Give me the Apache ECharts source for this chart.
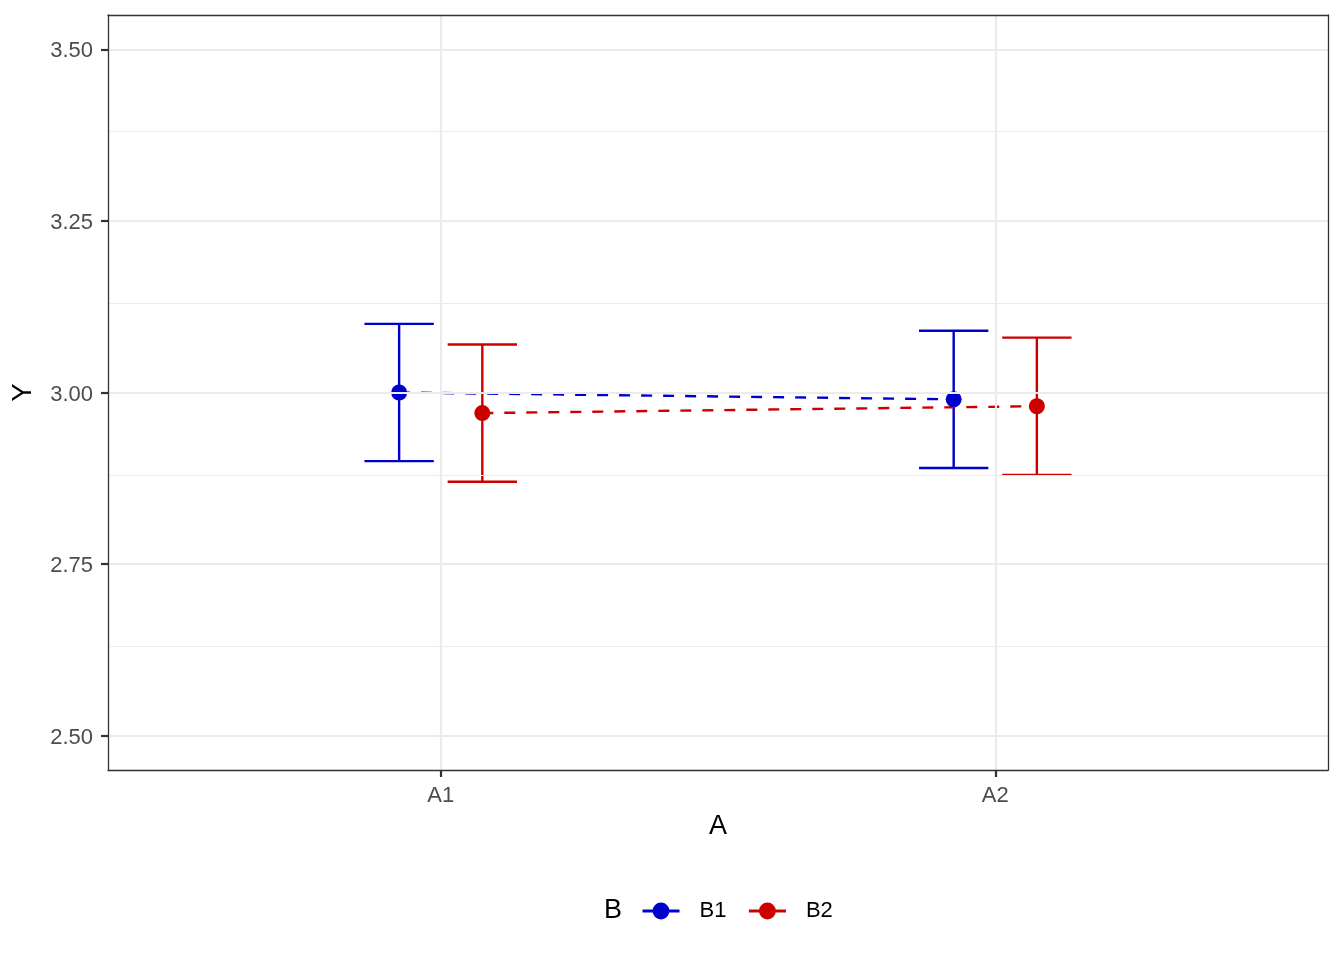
<!DOCTYPE html>
<html>
<head>
<meta charset="utf-8">
<script src="https://cdn.jsdelivr.net/npm/echarts@6/dist/echarts.min.js"></script>
<style>
html,body{margin:0;padding:0;background:#fff;}
#chart{width:1344px;height:960px;}
</style>
</head>
<body>
<div id="chart"></div>
<script>
// ---- data ----
const categories = ['A1', 'A2'];
const b1Mean  = [3.00, 2.99];
const b1Lower = [2.90, 2.89];
const b1Upper = [3.10, 3.09];
const b2Mean  = [2.97, 2.98];
const b2Lower = [2.87, 2.88];
const b2Upper = [3.07, 3.08];
const yTicks = [2.50, 2.75, 3.00, 3.25, 3.50];
const yMinor = [2.625, 2.875, 3.125, 3.375];
const groups = ['B1', 'B2'];

// ---- layout / style constants ----
const DODGE = 0.075;
const HALF_W = 0.0625;
const BLUE = '#0000CD';
const RED = '#CD0000';
const FONT = 'Liberation Sans, Arial, Helvetica, sans-serif';
const LW = 2.4;
const xPos = categories.map((c, i) => i + 1);

function pts(mean, off) {
  return mean.map((v, i) => [xPos[i] + off, v]);
}
function bars(lo, hi, off) {
  return lo.map((v, i) => [xPos[i] + off, v, hi[i]]);
}
function errRender(color) {
  return function (params, api) {
    const x = api.value(0), lo = api.value(1), hi = api.value(2);
    const pTop = api.coord([x, hi]);
    const pBot = api.coord([x, lo]);
    const pTL = api.coord([x - HALF_W, hi]);
    const pTR = api.coord([x + HALF_W, hi]);
    const pBL = api.coord([x - HALF_W, lo]);
    const pBR = api.coord([x + HALF_W, lo]);
    const st = { stroke: color, lineWidth: LW };
    return {
      type: 'group',
      children: [
        { type: 'line', shape: { x1: pTop[0], y1: pTop[1], x2: pBot[0], y2: pBot[1] }, style: st },
        { type: 'line', shape: { x1: pTL[0], y1: pTL[1], x2: pTR[0], y2: pTR[1] }, style: st },
        { type: 'line', shape: { x1: pBL[0], y1: pBL[1], x2: pBR[0], y2: pBR[1] }, style: st }
      ]
    };
  };
}

const gridLines = []
  .concat(yMinor.map(v => ({ yAxis: v, lineStyle: { width: 1.1, color: '#EBEBEB', type: 'solid' } })))
  .concat(yTicks.map(v => ({ yAxis: v, lineStyle: { width: 2.2, color: '#EBEBEB', type: 'solid' } })))
  .concat(xPos.map(v => ({ xAxis: v, lineStyle: { width: 2.2, color: '#EBEBEB', type: 'solid' } })));

const borderLine = { show: true, onZero: false, lineStyle: { color: '#333333', width: 1.3 } };

const chart = echarts.init(document.getElementById('chart'), null, { renderer: 'canvas' });
chart.setOption({
  animation: false,
  backgroundColor: '#fff',
  grid: { left: 108, right: 16, top: 15, bottom: 190, show: false },
  xAxis: [
    {
      type: 'value', min: 0.4, max: 2.6, position: 'bottom', z: 6,
      name: 'A', nameLocation: 'middle', nameGap: 43,
      nameTextStyle: { fontFamily: FONT, fontSize: 27, color: '#000' },
      axisLine: borderLine,
      axisTick: { show: true, length: 7, customValues: xPos, lineStyle: { color: '#333333', width: 2.2 } },
      axisLabel: {
        customValues: xPos, margin: 15,
        fontFamily: FONT, fontSize: 22, color: '#4D4D4D',
        formatter: v => categories[Math.round(v) - 1] || ''
      },
      splitLine: { show: false }
    },
    {
      type: 'value', min: 0.4, max: 2.6, position: 'top', z: 6,
      axisLine: borderLine, axisTick: { show: false }, axisLabel: { show: false }, splitLine: { show: false }
    }
  ],
  yAxis: [
    {
      type: 'value', min: 2.45, max: 3.55, position: 'left', z: 6,
      name: 'Y', nameLocation: 'middle', nameGap: 71, nameRotate: 90,
      nameTextStyle: { fontFamily: FONT, fontSize: 27, color: '#000' },
      axisLine: borderLine,
      axisTick: { show: true, length: 7, customValues: yTicks, lineStyle: { color: '#333333', width: 2.2 } },
      axisLabel: {
        customValues: yTicks, margin: 15,
        fontFamily: FONT, fontSize: 22, color: '#4D4D4D',
        formatter: v => '{t|' + Number(v).toFixed(2) + '}',
        rich: { t: { fontFamily: FONT, fontSize: 22, color: '#4D4D4D', padding: [4, 0, 0, 0] } }
      },
      splitLine: { show: false }
    },
    {
      type: 'value', min: 2.45, max: 3.55, position: 'right', z: 6,
      axisLine: borderLine, axisTick: { show: false }, axisLabel: { show: false }, splitLine: { show: false }
    }
  ],
  legend: {
    data: groups,
    left: 636, top: 895,
    itemWidth: 37, itemHeight: 21, itemGap: 21,
    lineStyle: { type: 'solid', width: 3 },
    textStyle: { fontFamily: FONT, fontSize: 22, color: '#000', padding: [0, 0, 0, 15] }
  },
  graphic: [
    { type: 'text', left: 604, top: 897, style: { text: 'B', font: '27px ' + FONT, fill: '#000' } }
  ],
  series: [
    {
      name: 'B1', type: 'line', data: pts(b1Mean, -DODGE), z: 4,
      symbol: 'circle', symbolSize: 16, color: BLUE,
      itemStyle: { color: BLUE },
      lineStyle: { color: BLUE, width: LW, type: [11, 11] }
    },
    {
      name: 'B2', type: 'line', data: pts(b2Mean, DODGE), z: 4,
      symbol: 'circle', symbolSize: 16, color: RED,
      itemStyle: { color: RED },
      lineStyle: { color: RED, width: LW, type: [11, 11] }
    },
    {
      name: 'B1', type: 'custom', data: bars(b1Lower, b1Upper, -DODGE), z: 3,
      renderItem: errRender(BLUE), encode: { x: 0, y: [1, 2] }, color: BLUE
    },
    {
      name: 'B2', type: 'custom', data: bars(b2Lower, b2Upper, DODGE), z: 3,
      renderItem: errRender(RED), encode: { x: 0, y: [1, 2] }, color: RED
    },
    {
      name: 'grid', type: 'line', data: [], z: 1, silent: true,
      markLine: { silent: true, symbol: ['none', 'none'], label: { show: false }, animation: false, data: gridLines }
    }
  ]
});
</script>
</body>
</html>
